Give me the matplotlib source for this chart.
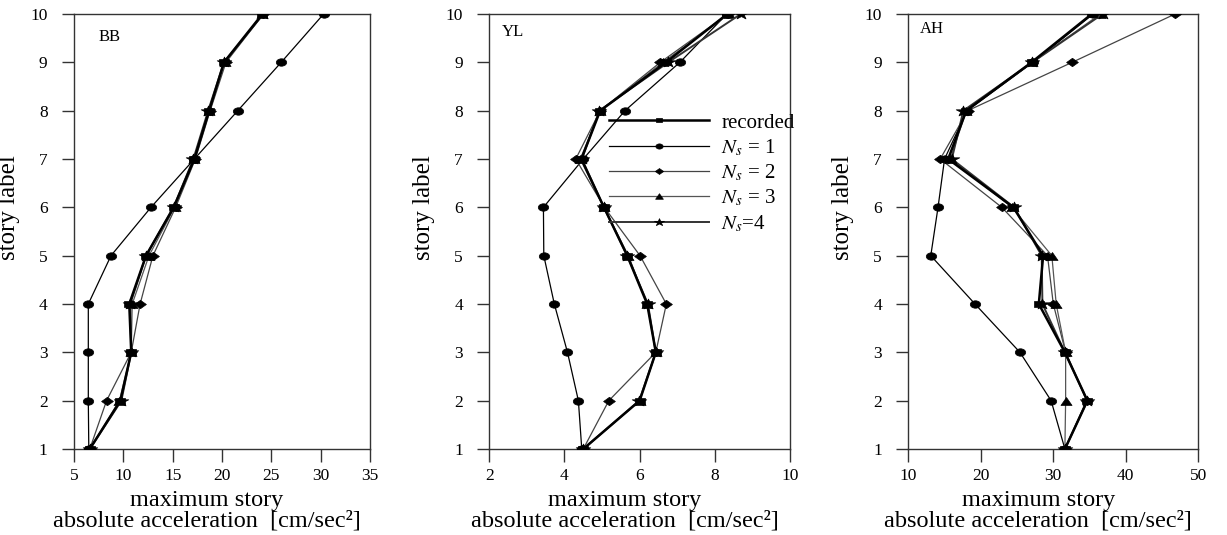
import matplotlib
matplotlib.use('Agg')
import matplotlib.pyplot as plt
from matplotlib.markers import MarkerStyle
from matplotlib.transforms import Affine2D

plt.rcParams['font.family'] = ['Liberation Serif', 'DejaVu Serif']
plt.rcParams['mathtext.fontset'] = 'stix'

stories = [1, 2, 3, 4, 5, 6, 7, 8, 9, 10]
series_names = ['recorded', r'$N_s$ = 1', r'$N_s$ = 2', r'$N_s$ = 3', r'$N_s$=4']

# BB building
bb_recorded = [6.6, 9.7, 10.8, 10.6, 12.3, 15.1, 17.2, 18.7, 20.2, 24.1]
bb_ns1 = [6.5, 6.45, 6.45, 6.45, 8.75, 12.8, 17.2, 21.6, 26.0, 30.3]
bb_ns2 = [6.6, 8.3, 10.8, 11.7, 13.0, 15.3, 17.3, 18.8, 20.4, 24.2]
bb_ns3 = [6.6, 9.6, 10.8, 10.9, 12.6, 15.2, 17.2, 18.7, 20.3, 24.1]
bb_ns4 = [6.6, 9.8, 10.8, 10.7, 12.3, 15.1, 17.1, 18.6, 20.2, 24.2]

# YL building
yl_recorded = [4.5, 6.0, 6.43, 6.2, 5.67, 5.05, 4.45, 4.95, 6.7, 8.33]
yl_ns1 = [4.46, 4.37, 4.08, 3.73, 3.45, 3.44, 4.5, 5.61, 7.07, 8.32]
yl_ns2 = [4.5, 5.18, 6.43, 6.71, 6.01, 5.06, 4.3, 4.95, 6.55, 8.35]
yl_ns3 = [4.5, 6.0, 6.43, 6.2, 5.7, 5.05, 4.42, 4.95, 6.62, 8.38]
yl_ns4 = [4.5, 5.99, 6.43, 6.22, 5.67, 5.05, 4.46, 4.93, 6.76, 8.69]

# AH building
ah_recorded = [31.6, 34.7, 31.6, 28.0, 28.6, 24.5, 15.5, 18.0, 27.0, 35.3]
ah_ns1 = [31.6, 29.7, 25.4, 19.2, 13.1, 14.1, 15.0, 18.1, 27.2, 35.5]
ah_ns2 = [31.6, 34.6, 31.7, 30.0, 29.2, 22.9, 14.4, 18.2, 32.6, 46.8]
ah_ns3 = [31.6, 31.7, 31.7, 30.4, 29.8, 24.3, 15.8, 18.0, 27.1, 36.5]
ah_ns4 = [31.6, 34.7, 31.6, 28.5, 28.4, 24.6, 16.0, 17.6, 27.1, 36.8]

panels = [
    ('BB', [bb_recorded, bb_ns1, bb_ns2, bb_ns3, bb_ns4], (5, 35), [5, 10, 15, 20, 25, 30, 35]),
    ('YL', [yl_recorded, yl_ns1, yl_ns2, yl_ns3, yl_ns4], (2, 10), [2, 4, 6, 8, 10]),
    ('AH', [ah_recorded, ah_ns1, ah_ns2, ah_ns3, ah_ns4], (10, 50), [10, 20, 30, 40, 50]),
]


def wide(m, sx=1.4):
    # the original figure is stretched sideways, markers too
    ms = MarkerStyle(m)
    p = ms.get_path().transformed(ms.get_transform())
    return p.transformed(Affine2D().scale(sx, 1.0))


markers = [wide('s'), wide('o'), wide('D'), wide('^'), wide('*')]
msizes = [7, 7.5, 8.5, 8, 10.5]
colors = ['k', 'k', '#444444', '#555555', '#333333']
lwidths = [1.8, 0.9, 0.9, 0.9, 1.4]

fig = plt.figure(figsize=(12.27, 5.35), dpi=100)
W, H = 1227.0, 535.0
boxes = [(74, 296), (489.3, 300.7), (908.3, 290)]
tag_pos = [(0.084, 0.947), (0.043, 0.959), (0.041, 0.966)]

for i, (tag, data, xl, xt) in enumerate(panels):
    left, width = boxes[i]
    ax = fig.add_axes([left / W, 1 - 449 / H, width / W, 435 / H])
    for j in range(5):
        ax.plot(data[j], stories, color=colors[j], lw=lwidths[j],
                marker=markers[j], markersize=msizes[j],
                markerfacecolor='k', markeredgecolor='k', markeredgewidth=0.5,
                label=series_names[j], zorder=3 + (j == 0))
    ax.set_xlim(xl)
    ax.set_ylim(1, 10)
    ax.set_xticks(xt)
    ax.set_yticks(stories)
    ax.tick_params(direction='out', length=9, width=1, labelsize=12.5,
                   color='#333333')
    ax.tick_params(axis='y', pad=10)
    ax.tick_params(axis='x', pad=5)
    for s in ax.spines.values():
        s.set_linewidth(1.0)
        s.set_color('#333333')
    ax.text(tag_pos[i][0], tag_pos[i][1], tag, transform=ax.transAxes,
            fontsize=12, ha='left', va='center')
    ax.set_ylabel('story label', fontsize=18)
    ax.yaxis.set_label_coords(-54 / width, 0.555)
    ax.set_xlabel('maximum story\nabsolute acceleration  [cm/sec²]',
                  fontsize=17.5, linespacing=0.95)
    ax.xaxis.set_label_coords(0.5 - 15 / width, -0.094)
    if i == 1:
        ax.legend(loc='upper left', bbox_to_anchor=(0.397, 0.772),
                  frameon=False, fontsize=15, handlelength=4.8,
                  numpoints=1, markerscale=0.7, labelspacing=0.22,
                  handletextpad=0.6, borderaxespad=0, borderpad=0)

fig.savefig('out.png', dpi=100)
